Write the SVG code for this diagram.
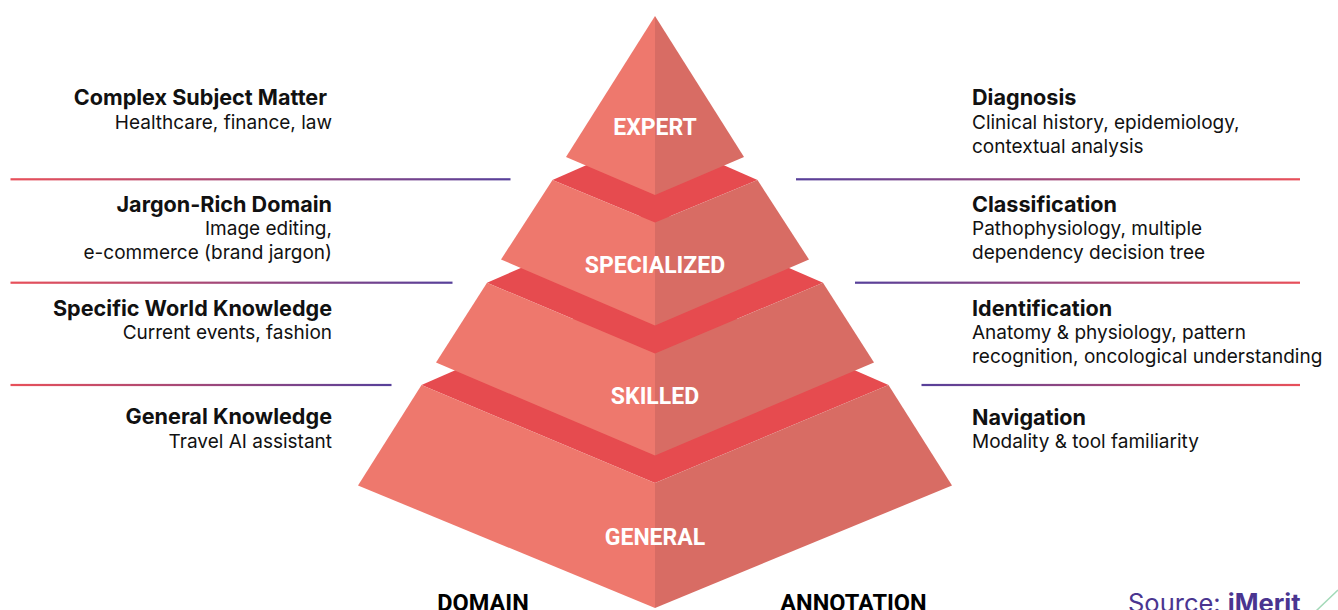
<svg xmlns="http://www.w3.org/2000/svg" width="1338" height="610" viewBox="0 0 1338 610">
  <defs>
    <linearGradient id="lineL" x1="0" y1="0" x2="1" y2="0">
      <stop offset="0" stop-color="#E8505A"/>
      <stop offset="1" stop-color="#57409A"/>
    </linearGradient>
    <linearGradient id="lineR" x1="0" y1="0" x2="1" y2="0">
      <stop offset="0" stop-color="#57409A"/>
      <stop offset="1" stop-color="#E8505A"/>
    </linearGradient>
    <style>
      .left { fill: #EE786D; }
      .right { fill: #D86C64; }
      .top { fill: #E64B4F; }
      .tier { font-family: Roboto, "Liberation Sans", sans-serif; font-weight: 700; font-size: 23px; fill: #FFFFFF; text-anchor: middle; }
      .ttl { font-family: Inter, "Liberation Sans", sans-serif; font-weight: 700; font-size: 21.6px; fill: #111111; }
      .sub { font-family: Inter, "Liberation Sans", sans-serif; font-weight: 400; font-size: 19px; fill: #111111; }
      .end { text-anchor: end; }
      .axis { font-family: Roboto, "Liberation Sans", sans-serif; font-weight: 700; font-size: 23.5px; fill: #000000; text-anchor: middle; }
      .src { font-family: Inter, "Liberation Sans", sans-serif; font-size: 25.5px; fill: #4A3590; }
    </style>
  </defs>

  <!-- separator rules -->
  <g id="connectors">
    <rect x="10.5" y="178.2" width="500" height="2.2" fill="url(#lineL)"/>
    <rect x="10.5" y="281.6" width="442" height="2.2" fill="url(#lineL)"/>
    <rect x="10.5" y="383.9" width="381" height="2.2" fill="url(#lineL)"/>
    <rect x="796" y="178.2" width="504" height="2.2" fill="url(#lineR)"/>
    <rect x="855" y="281.6" width="445" height="2.2" fill="url(#lineR)"/>
    <rect x="921.5" y="383.9" width="378.5" height="2.2" fill="url(#lineR)"/>
  </g>

  <!-- pyramid, bottom tier first so upper tiers overlap -->
  <g id="tier-general">
    <polygon class="top" points="421.5,385 655,283 888.5,385 655,483"/>
    <polygon class="left" points="421.5,385 655,483 655,608 358,485.5"/>
    <polygon class="right" points="888.5,385 655,483 655,608 952,485.5"/>
    <text class="tier" x="655" y="545">GENERAL</text>
  </g>

  <g id="tier-skilled">
    <polygon class="top" points="487,282.7 655,210 823,282.7 655,353.5"/>
    <polygon class="left" points="487,282.7 655,353.5 655,455.5 436,362.5"/>
    <polygon class="right" points="823,282.7 655,353.5 655,455.5 874,362.5"/>
    <text class="tier" x="655" y="404">SKILLED</text>
  </g>

  <g id="tier-specialized">
    <polygon class="top" points="552.5,180 655,135 757.5,180 655,222.5"/>
    <polygon class="left" points="552.5,180 655,222.5 655,325.5 501,259.5"/>
    <polygon class="right" points="757.5,180 655,222.5 655,325.5 809,259.5"/>
    <text class="tier" x="655" y="273">SPECIALIZED</text>
  </g>

  <g id="tier-expert">
    <polygon class="left" points="655,16 566,157 655,195"/>
    <polygon class="right" points="655,16 744,157 655,195"/>
    <text class="tier" x="655" y="135">EXPERT</text>
  </g>

  <!-- domain descriptions -->
  <g id="domain-complex">
    <text class="ttl end" x="327" y="104.5">Complex Subject Matter</text>
    <text class="sub end" x="332" y="128.5">Healthcare, finance, law</text>
  </g>
  <g id="domain-jargon">
    <text class="ttl end" x="332" y="211.5">Jargon-Rich Domain</text>
    <text class="sub end" x="332" y="235">Image editing,</text>
    <text class="sub end" x="332" y="258.5">e-commerce (brand jargon)</text>
  </g>
  <g id="domain-world">
    <text class="ttl end" x="332" y="315.5">Specific World Knowledge</text>
    <text class="sub end" x="332" y="338.5">Current events, fashion</text>
  </g>
  <g id="domain-general">
    <text class="ttl end" x="332" y="424">General Knowledge</text>
    <text class="sub end" x="332" y="447.5">Travel AI assistant</text>
  </g>

  <!-- annotation descriptions -->
  <g id="annot-diagnosis">
    <text class="ttl" x="972" y="104.5">Diagnosis</text>
    <text class="sub" x="972" y="128.5">Clinical history, epidemiology,</text>
    <text class="sub" x="972" y="152.5">contextual analysis</text>
  </g>
  <g id="annot-classification">
    <text class="ttl" x="972" y="211.5">Classification</text>
    <text class="sub" x="972" y="234.5">Pathophysiology, multiple</text>
    <text class="sub" x="972" y="258.5">dependency decision tree</text>
  </g>
  <g id="annot-identification">
    <text class="ttl" x="972" y="315.5">Identification</text>
    <text class="sub" x="972" y="339">Anatomy &amp; physiology, pattern</text>
    <text class="sub" x="972" y="362.5">recognition, oncological understanding</text>
  </g>
  <g id="annot-navigation">
    <text class="ttl" x="972" y="424.5">Navigation</text>
    <text class="sub" x="972" y="447.5">Modality &amp; tool familiarity</text>
  </g>

  <!-- axis captions, clipped by the bottom edge -->
  <g id="axis-labels">
    <text class="axis" x="483" y="611">DOMAIN</text>
    <text class="axis" x="853.5" y="611">ANNOTATION</text>
  </g>

  <!-- credit -->
  <g id="credit">
    <text class="src" x="1128" y="612">Source: <tspan font-weight="700">iMerit</tspan></text>
    <line x1="1316" y1="611" x2="1338" y2="590" stroke="#A3D9B8" stroke-width="1.5"/>
  </g>
</svg>
